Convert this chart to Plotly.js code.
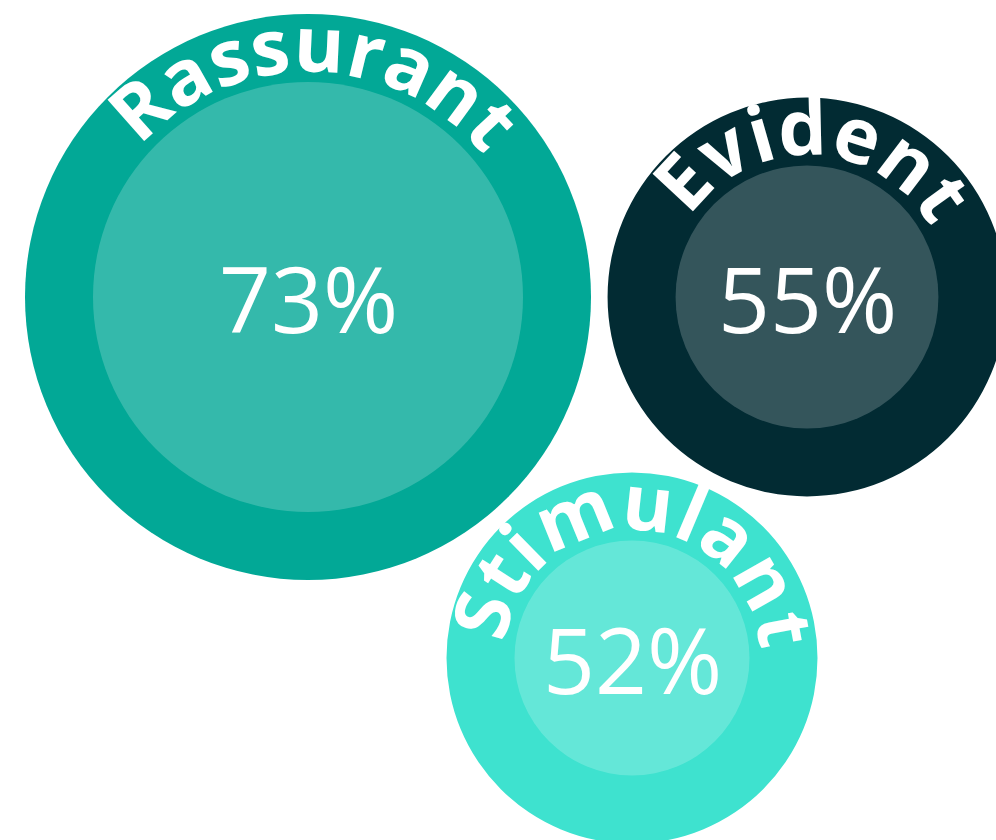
<!DOCTYPE html>
<html>
<head>
<meta charset="utf-8">
<script src="https://cdn.plot.ly/plotly-3.0.1.min.js"></script>
<style>html,body{margin:0;padding:0;background:#fff;}#chart{width:996px;height:840px;}</style>
</head>
<body>
<div id="chart"></div>
<script>
// ---- data ----
const categories = ['Rassurant', 'Evident', 'Stimulant'];
const values = [73, 55, 52];
const percentLabels = ['73%', '55%', '52%'];

// ---- layout / style (not data) ----
const centersX = [308, 807, 632];
const centersY = [297, 297, 658];
const outerColors = ['#02A896', '#022B33', '#3EE2CF'];
const labelCenterOffsetDeg = [1.5, 2.5, 1.5];
const ringWidth = 68;
const labelFontSize = 77;
const labelLetterSpacing = 0;
const labelBaselineInset = 58;
const pctFontSize = 91;

// radius scale: linear value -> pixel radius
const vMin = Math.min(...values), vMax = Math.max(...values);
const rMin = 185.5, rMax = 283;
const rScale = v => rMin + (v - vMin) * (rMax - rMin) / (vMax - vMin);

const shapes = [];
const annotations = [];

const canvas = document.createElement('canvas');
const ctx = canvas.getContext('2d');
ctx.font = 'bold ' + labelFontSize + 'px "Open Sans"';

categories.forEach((cat, i) => {
  const cx = centersX[i], cy = centersY[i];
  const R = rScale(values[i]);
  const r = R - ringWidth;
  shapes.push({type: 'circle', xref: 'x', yref: 'y', x0: cx - R, x1: cx + R, y0: cy - R, y1: cy + R,
    fillcolor: outerColors[i], line: {width: 0}, layer: 'below'});
  shapes.push({type: 'circle', xref: 'x', yref: 'y', x0: cx - r, x1: cx + r, y0: cy - r, y1: cy + r,
    fillcolor: 'rgba(255,255,255,0.2)', line: {width: 0}, layer: 'below'});

  annotations.push({x: cx, y: cy + 1, xref: 'x', yref: 'y', text: percentLabels[i], showarrow: false,
    xanchor: 'center', yanchor: 'middle',
    font: {family: '"Open Sans", sans-serif', size: pctFontSize, color: '#ffffff'}});

  // curved label, letter by letter
  const rBase = R - labelBaselineInset;
  const letters = cat.split('');
  const widths = letters.map(ch => ctx.measureText(ch).width);
  const total = widths.reduce((a, b) => a + b, 0) + (letters.length - 1) * labelLetterSpacing;
  const start = (labelCenterOffsetDeg[i] * Math.PI / 180) - total / (2 * rBase);
  let cum = 0;
  const rMid = rBase + 0.388 * labelFontSize;
  letters.forEach((ch, k) => {
    const th = start + (cum + widths[k] / 2) / rBase;
    cum += widths[k] + labelLetterSpacing;
    annotations.push({
      x: cx + rMid * Math.sin(th), y: cy - rMid * Math.cos(th), xref: 'x', yref: 'y',
      text: ch, showarrow: false, xanchor: 'center', yanchor: 'middle',
      textangle: th * 180 / Math.PI,
      font: {family: '"Open Sans", sans-serif', size: labelFontSize, color: '#ffffff', weight: 700}
    });
  });
});

const layout = {
  width: 996, height: 840,
  margin: {l: 0, r: 0, t: 0, b: 0, pad: 0},
  paper_bgcolor: '#ffffff', plot_bgcolor: '#ffffff',
  showlegend: false,
  xaxis: {range: [0, 996], visible: false, fixedrange: true},
  yaxis: {range: [840, 0], visible: false, fixedrange: true},
  shapes: shapes,
  annotations: annotations
};

Plotly.newPlot('chart', [{x: [], y: [], type: 'scatter', hoverinfo: 'skip'}], layout,
  {displayModeBar: false, staticPlot: true});
</script>
</body>
</html>
